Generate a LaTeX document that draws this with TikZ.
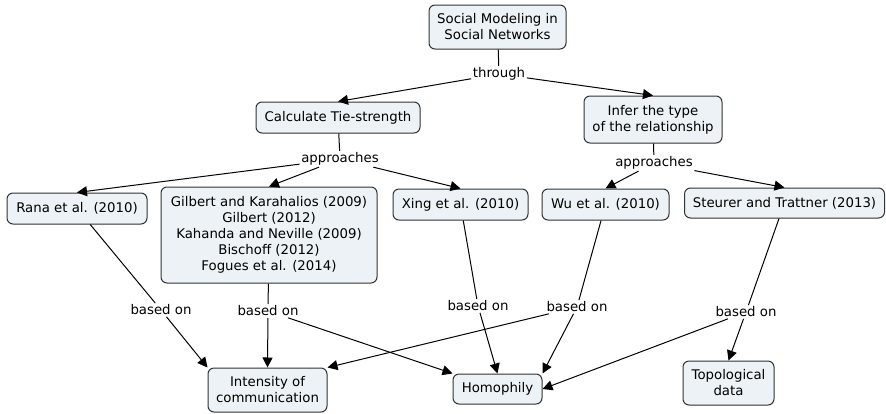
\documentclass[tikz,border=0pt]{standalone}
\usepackage{fontspec}
\setmainfont{DejaVu Sans}
\usetikzlibrary{arrows.meta}
\definecolor{boxfill}{RGB}{236,242,245}
\definecolor{boxline}{RGB}{50,50,50}
\begin{document}
\begin{tikzpicture}[x=1pt,y=-1pt,
  concept/.style={draw=boxline, line width=1pt, fill=boxfill, rounded corners=6pt,
    align=center, font=\fontsize{13.3}{16}\selectfont, inner sep=2pt},
  linklabel/.style={font=\fontsize{13.3}{16}\selectfont, inner sep=1.5pt},
  conn/.style={draw=black, line width=1pt},
  arr/.style={conn, -{Triangle[length=10pt,width=10pt]}}]
\useasboundingbox (0,0) rectangle (886,413);

% concepts
\node[concept, minimum width=137pt, minimum height=44pt] (social) at (497.5,27) {Social Modeling in\\Social Networks};
\node[concept, minimum width=164pt, minimum height=31pt] (calc) at (338,117.5) {Calculate Tie-strength};
\node[concept, minimum width=138pt, minimum height=47pt] (infer) at (653,119.5) {Infer the type\\of the relationship};
\node[concept, minimum width=140pt, minimum height=31pt] (rana) at (77,208.5) {Rana et al. (2010)};
\node[concept, minimum width=216pt, minimum height=96pt] (gilbert) at (269,235) {Gilbert and Karahalios (2009)\\Gilbert (2012)\\Kahanda and Neville (2009)\\Bischoff (2012)\\Fogues et al. (2014)};
\node[concept, minimum width=135pt, minimum height=31pt] (xing) at (460.5,204.5) {Xing et al. (2010)};
\node[concept, minimum width=127pt, minimum height=31pt] (wu) at (605.5,204.5) {Wu et al. (2010)};
\node[concept, minimum width=200pt, minimum height=30pt] (steurer) at (784.5,203) {Steurer and Trattner (2013)};
\node[concept, minimum width=119pt, minimum height=44pt] (intensity) at (267.5,390) {Intensity of\\communication};
\node[concept, minimum width=89pt, minimum height=30pt] (homophily) at (497.5,389) {Homophily};
\node[concept, minimum width=91pt, minimum height=44pt] (topo) at (728.5,383) {Topological\\data};

% linking phrases
\node[linklabel] (through) at (499,74) {through};
\node[linklabel] (appL) at (340,159) {approaches};
\node[linklabel] (appR) at (654,163) {approaches};
\node[linklabel] (bo1) at (161,310) {based on};
\node[linklabel] (bo2) at (268,311) {based on};
\node[linklabel] (bo3) at (478,306) {based on};
\node[linklabel] (bo4) at (577,307) {based on};
\node[linklabel] (bo5) at (746,312) {based on};

% connectors
\draw[conn] (social) -- (through);
\draw[arr] (through) -- (calc.north);
\draw[arr] (through) -- (infer.north);

\draw[conn] (calc) -- (appL);
\draw[arr] (appL) -- (rana.north);
\draw[arr] (appL) -- (gilbert.north);
\draw[arr] (appL) -- (xing.north);

\draw[conn] (infer) -- (appR);
\draw[arr] (appR) -- (wu.north);
\draw[arr] (appR) -- (steurer.north);

\draw[conn] (rana) -- (bo1);
\draw[arr] (bo1) -- (intensity.north west);

\draw[conn] (gilbert) -- (bo2);
\draw[arr] (bo2) -- (intensity.north);
\draw[arr] (bo2) -- (homophily.north west);

\draw[conn] (xing) -- (bo3);
\draw[arr] (bo3) -- (homophily.north);

\draw[conn] (wu) -- (bo4);
\draw[arr] (bo4) -- (intensity.north east);
\draw[arr] (bo4) -- (homophily.north east);

\draw[conn] (steurer) -- (bo5);
\draw[arr] (bo5) -- (homophily.east);
\draw[arr] (bo5) -- (topo.north);
\end{tikzpicture}
\end{document}
